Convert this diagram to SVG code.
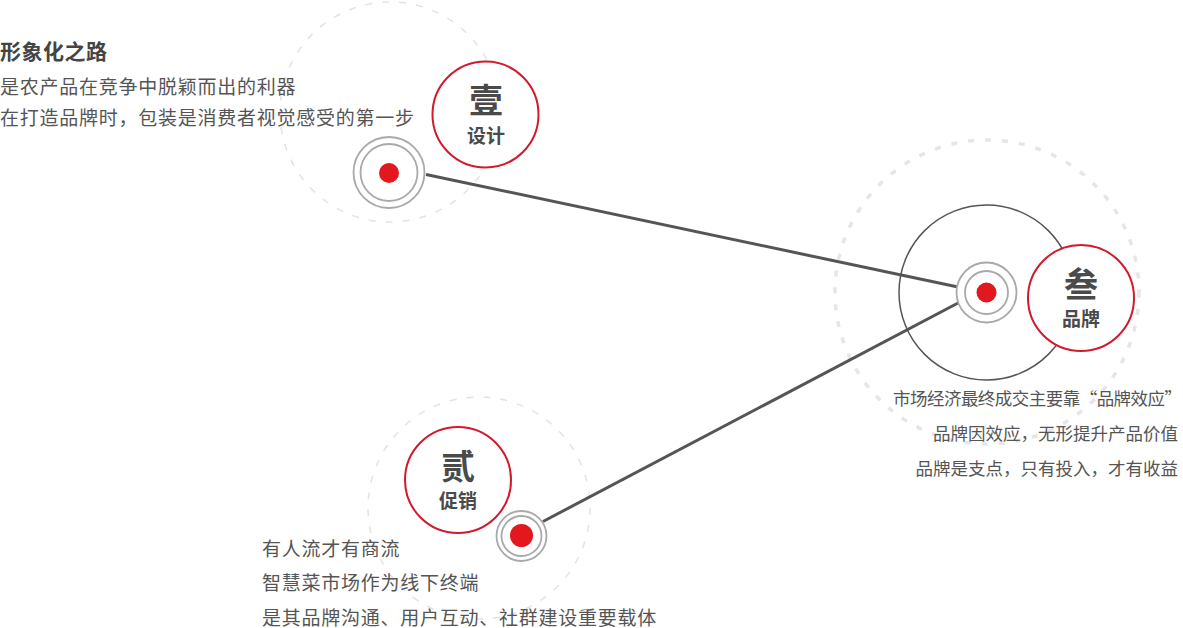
<svg xmlns="http://www.w3.org/2000/svg" width="1183" height="628" viewBox="0 0 1183 628">
<style>
.bg{fill:#ffffff}
.dash1{fill:none;stroke:#e3e3e3;stroke-width:1.5;stroke-dasharray:7 10}
.dash3{fill:none;stroke:#e6e6e6;stroke-width:3.5;stroke-dasharray:6 11}
.conn{fill:none;stroke:#555555;stroke-width:3;stroke-linecap:butt}
.big{fill:none;stroke:#555555;stroke-width:1.5}
.ring{fill:#ffffff;stroke:#a9a9a9;stroke-width:1.8}
.ring2{fill:none;stroke:#a9a9a9;stroke-width:1.8}
.dot{fill:#e3171e}
.badge{fill:#ffffff;stroke:#d21a2c;stroke-width:2}
.num{font-family:"Noto Sans CJK SC","Noto Sans",sans-serif;font-weight:700;font-size:34px;fill:#4a4a4a;text-anchor:middle}
.sub{font-family:"Noto Sans CJK SC","Noto Sans",sans-serif;font-weight:700;font-size:19px;fill:#4a4a4a;text-anchor:middle}
.head{font-family:"Noto Sans CJK SC","Noto Sans",sans-serif;font-weight:700;font-size:21px;letter-spacing:0.5px;fill:#444444}
.txt{font-family:"Noto Sans CJK SC","Noto Sans",sans-serif;font-size:19px;letter-spacing:0.75px;fill:#555555}
.txtr{font-family:"Noto Sans CJK SC","Noto Sans",sans-serif;font-size:17.5px;fill:#555555;text-anchor:end}
</style>
<rect class="bg" x="0" y="0" width="1183" height="628"/>
<g id="decor">
<circle class="dash1" cx="390" cy="112" r="110"/>
<circle class="dash1" cx="479" cy="508" r="111"/>
<circle class="dash3" cx="987" cy="292" r="152"/>
</g>
<g id="connectors">
<line class="conn" x1="426" y1="174.5" x2="958" y2="287"/>
<line class="conn" x1="543" y1="521.5" x2="959" y2="302.5"/>
</g>
<g id="node-brand">
<circle class="big" cx="986.5" cy="292.5" r="87.5"/>
<circle class="ring" cx="986.5" cy="292.5" r="30"/>
<circle class="ring2" cx="986.5" cy="292.5" r="21.5"/>
<circle class="dot" cx="986.5" cy="292.5" r="10"/>
<circle class="badge" cx="1081" cy="298" r="53"/>
<text class="num" x="1081" y="297">叁</text>
<text class="sub" x="1081" y="326">品牌</text>
<text class="txtr" x="1182" y="405" textLength="289" lengthAdjust="spacing">市场经济最终成交主要靠“品牌效应”</text>
<text class="txtr" x="1178" y="440">品牌因效应，无形提升产品价值</text>
<text class="txtr" x="1178" y="475">品牌是支点，只有投入，才有收益</text>
</g>
<g id="node-design">
<circle class="ring" cx="389" cy="172.5" r="35.5"/>
<circle class="ring2" cx="389" cy="172.5" r="28.5"/>
<circle class="dot" cx="389" cy="173" r="10"/>
<circle class="badge" cx="485.5" cy="114.5" r="53"/>
<text class="num" x="486" y="113">壹</text>
<text class="sub" x="486" y="142.5">设计</text>
<text class="head" x="0" y="59">形象化之路</text>
<text class="txt" x="0" y="94">是农产品在竞争中脱颖而出的利器</text>
<text class="txt" x="0" y="125">在打造品牌时，包装是消费者视觉感受的第一步</text>
</g>
<g id="node-promo">
<circle class="ring" cx="521.5" cy="536" r="25"/>
<circle class="ring2" cx="521.5" cy="536" r="20"/>
<circle class="dot" cx="521.5" cy="535.5" r="11.5"/>
<circle class="badge" cx="458" cy="480" r="53"/>
<text class="num" x="458" y="478.5">贰</text>
<text class="sub" x="458" y="507.5">促销</text>
<text class="txt" x="262" y="556">有人流才有商流</text>
<text class="txt" x="262" y="590">智慧菜市场作为线下终端</text>
<text class="txt" x="262" y="625">是其品牌沟通、用户互动、社群建设重要载体</text>
</g>
</svg>
